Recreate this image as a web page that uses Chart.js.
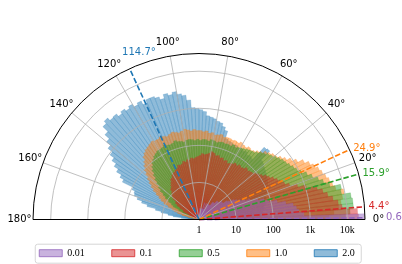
<!DOCTYPE html>
<html><head><meta charset="utf-8">
<script src="https://cdn.jsdelivr.net/npm/chart.js@4.4.1/dist/chart.umd.min.js"></script>
<style>html,body{margin:0;padding:0;background:#fff;overflow:hidden}#wrap{width:402px;height:264px;position:relative}</style>
</head><body>
<div id="wrap"><canvas id="c"></canvas></div>
<script>
// ---------------- data (counts per 2° bin, from 0° upward) ----------------
const BIN_DEG = 2;
const seriesLabels = ['0.01', '0.1', '0.5', '1.0', '2.0'];
const counts001 = [29000,680,500,440,370,240,145,88,68,47,
  30,22,17,14,12,9,8,6,6,6,
  5,5,5,4,4,4,3,3,3,3,
  3,2,3,2,2,3,2,2,1,2,
  2,1,0,2,0,0,0,0,0,0,
  0,0,0,0,0,0,0,0,0,0,
  0,0,0,0,0,0,0,0,0,0,
  0,0,0,0,0,0,0,0,0,0,
  0,0,0,0,0,0,0,0,0,0];
const counts01 = [20000,19000,7500,6000,4500,3400,2650,1950,1050,640,
  410,320,270,235,200,165,145,120,105,93,
  82,78,73,78,68,64,68,60,64,57,
  53,50,57,53,60,57,64,60,68,73,
  64,60,57,60,53,50,47,44,47,42,
  44,39,42,37,35,37,32,30,28,27,
  25,22,21,18,16,14,13,11,10,9,
  8,6,6,5,4,3,3,2,2,0,
  0,0,0,0,0,0,0,0,0,0];
const counts05 = [9000,12000,15000,15000,14000,8000,8500,4400,3200,2500,
  1850,1450,1100,920,820,720,640,600,530,470,
  410,370,320,290,250,220,210,200,185,175,
  165,150,165,145,150,145,150,145,135,145,
  150,135,145,145,135,145,135,145,150,145,
  135,145,150,165,150,145,150,165,150,145,
  145,135,125,110,100,82,68,53,41,32,
  25,20,15,12,9,7,6,4,3,2,
  0,0,0,0,0,0,0,0,0,0];
const counts10 = [3200,4400,6000,7200,8200,9500,6000,5300,4700,4100,
  3600,3200,2650,2200,1700,1200,920,720,600,500,
  470,410,370,300,270,235,220,235,210,220,
  235,210,220,210,220,220,210,235,220,210,
  235,220,250,235,250,250,270,250,270,290,
  270,250,270,290,270,250,270,290,270,270,
  290,270,250,235,210,185,145,120,100,78,
  60,47,37,29,22,17,14,11,8,6,
  5,4,3,2,0,0,0,0,0,0];
const counts20 = [40,45,50,55,60,60,70,70,80,80,
  90,100,110,120,130,140,150,160,170,180,
  200,210,450,420,150,160,150,170,160,170,
  160,175,170,180,185,200,320,390,470,500,
  560,600,640,820,920,990,1050,1700,2350,2650,
  3200,2800,3200,2500,3000,3400,3400,2800,3600,3200,
  3900,3400,3900,3400,4100,3900,4800,4000,2600,1800,
  1300,920,680,500,370,260,200,95,78,73,
  57,41,28,16,11,7,5,3,2,0];
const meanAngles = [0.6, 4.4, 15.9, 24.9, 114.7];
const angleTicks = [0, 20, 40, 60, 80, 100, 120, 140, 160, 180];
const radialTicks = [1, 10, 100, 1000, 10000];
const radialTickLabels = ['1', '10', '100', '1k', '10k'];
const rMaxCount = 30000;

// ---------------- styles / layout ----------------
const rgbs = ['148,103,189', '214,39,40', '44,160,44', '255,127,14', '31,119,180'];
const solid = ['#9467bd', '#d62728', '#2ca02c', '#ff7f0e', '#1f77b4'];
const meanLabelGap = [21, 4, 4, 4, 18];
const CX = 199, CY = 219.5, RADIUS = 166;
const LEGEND_ITEM_TOP = 248.2, LEGEND_PAD = 27;
const SANS = "'DejaVu Sans', sans-serif";
const SERIF = "'Liberation Serif', serif";

const allCounts = [counts001, counts01, counts05, counts10, counts20];
const nBins = counts001.length;
const binLabels = [];
for (let i = nBins - 1; i >= 0; i--) binLabels.push((i * BIN_DEG) + '–' + ((i + 1) * BIN_DEG) + '°');
const toLog = c => (c > 0 ? Math.log10(c) : 0);

const datasets = allCounts.map((cnt, k) => ({
  label: seriesLabels[k],
  data: cnt.slice().reverse().map(toLog),
  angle: BIN_DEG,
  backgroundColor: 'rgba(' + rgbs[k] + ',0.5)',
  borderColor: 'rgba(' + rgbs[k] + ',0.4)',
  borderWidth: ctx => (ctx.raw > 0 ? 0.5 : 0),
  clip: false
}));

function polarPt(scale, deg, value) {
  const d = scale.getDistanceFromCenterForValue(value);
  const a = deg * Math.PI / 180;
  return [scale.xCenter + d * Math.cos(a), scale.yCenter - d * Math.sin(a), d];
}

const decor = {
  id: 'decor',
  afterLayout(chart) {
    const lg = chart.legend;
    if (lg) {
      const h = lg.bottom - lg.top;
      lg.top = LEGEND_ITEM_TOP - LEGEND_PAD;
      lg.bottom = lg.top + h;
    }
  },
  afterDatasetsDraw(chart) {
    const s = chart.scales.r;
    const ctx = chart.ctx;
    const vmax = Math.log10(rMaxCount);
    const R = s.getDistanceFromCenterForValue(vmax);
    ctx.save();
    // grid circles
    ctx.strokeStyle = '#b0b0b0';
    ctx.lineWidth = 0.8;
    radialTicks.forEach(v => {
      const d = s.getDistanceFromCenterForValue(Math.log10(v));
      if (d <= 0) return;
      ctx.beginPath();
      ctx.arc(s.xCenter, s.yCenter, d, Math.PI, 2 * Math.PI);
      ctx.stroke();
    });
    // angle lines
    angleTicks.forEach(t => {
      if (t === 0 || t === 180) return;
      const p = polarPt(s, t, vmax);
      ctx.beginPath();
      ctx.moveTo(s.xCenter, s.yCenter);
      ctx.lineTo(p[0], p[1]);
      ctx.stroke();
    });
    // mean lines
    ctx.lineWidth = 1.6;
    ctx.setLineDash([5.5, 2.4]);
    meanAngles.forEach((m, k) => {
      const p = polarPt(s, m, vmax);
      ctx.strokeStyle = solid[k];
      ctx.beginPath();
      ctx.moveTo(s.xCenter, s.yCenter);
      ctx.lineTo(p[0], p[1]);
      ctx.stroke();
    });
    ctx.setLineDash([]);
    // spines
    ctx.strokeStyle = '#000';
    ctx.lineWidth = 1;
    ctx.beginPath();
    ctx.arc(s.xCenter, s.yCenter, R, Math.PI, 2 * Math.PI);
    ctx.stroke();
    ctx.beginPath();
    ctx.moveTo(s.xCenter - R, s.yCenter);
    ctx.lineTo(s.xCenter + R, s.yCenter);
    ctx.stroke();
    // angle tick labels
    ctx.fillStyle = '#000';
    ctx.font = '10px ' + SANS;
    ctx.textAlign = 'center';
    ctx.textBaseline = 'middle';
    angleTicks.forEach(t => {
      const a = t * Math.PI / 180;
      const d = R + 13.5;
      ctx.fillText(t + '°', s.xCenter + d * Math.cos(a), s.yCenter - d * Math.sin(a));
    });
    // radial tick labels
    ctx.font = '10px ' + SERIF;
    radialTicks.forEach((v, i) => {
      const d = s.getDistanceFromCenterForValue(Math.log10(v));
      ctx.fillText(radialTickLabels[i], s.xCenter + d, s.yCenter + 10.5);
    });
    // mean labels
    ctx.font = '10px ' + SANS;
    ctx.textAlign = 'left';
    meanAngles.forEach((m, k) => {
      const a = m * Math.PI / 180;
      const d = R + meanLabelGap[k];
      ctx.fillStyle = solid[k];
      ctx.fillText(m.toFixed(1) + '°', s.xCenter + d * Math.cos(a), s.yCenter - d * Math.sin(a));
    });
    ctx.restore();
  },
  afterDraw(chart) {
    const lg = chart.legend;
    if (!lg || !lg.legendHitBoxes || !lg.legendHitBoxes.length) return;
    const hb = lg.legendHitBoxes;
    let l = Infinity, r = -Infinity, t = Infinity, b = -Infinity;
    hb.forEach(h => { l = Math.min(l, h.left); r = Math.max(r, h.left + h.width); t = Math.min(t, h.top); b = Math.max(b, h.top + h.height); });
    const ctx = chart.ctx;
    const x0 = l - 4, x1 = r + 6.5, y0 = t - 4, y1 = b + 5, rad = 2.5;
    ctx.save();
    ctx.strokeStyle = '#d6d6d6';
    ctx.lineWidth = 1;
    ctx.beginPath();
    ctx.moveTo(x0 + rad, y0);
    ctx.arcTo(x1, y0, x1, y1, rad);
    ctx.arcTo(x1, y1, x0, y1, rad);
    ctx.arcTo(x0, y1, x0, y0, rad);
    ctx.arcTo(x0, y0, x1, y0, rad);
    ctx.closePath();
    ctx.stroke();
    ctx.restore();
  }
};

new Chart(document.getElementById('c'), {
  type: 'polarArea',
  data: { labels: binLabels, datasets },
  plugins: [decor],
  options: {
    responsive: true,
    maintainAspectRatio: false,
    animation: false,
    startAngle: -90,
    layout: { padding: { right: 8 } },
    scales: {
      r: {
        type: 'radialLinear',
        min: 0,
        max: Math.log10(rMaxCount),
        startAngle: -90,
        ticks: { display: false },
        grid: { display: false },
        angleLines: { display: false },
        pointLabels: { display: false },
        afterFit: sc => { sc.xCenter = CX; sc.yCenter = CY; sc.drawingArea = RADIUS; }
      }
    },
    plugins: {
      tooltip: { enabled: false },
      legend: {
        display: true,
        position: 'bottom',
        labels: {
          boxWidth: 23,
          boxHeight: 7,
          padding: LEGEND_PAD,
          color: '#000',
          font: { family: SERIF, size: 10 },
          generateLabels: chart => chart.data.datasets.map((ds, i) => ({
            text: ds.label,
            fillStyle: 'rgba(' + rgbs[i] + ',0.5)',
            strokeStyle: 'rgba(' + rgbs[i] + ',0.8)',
            lineWidth: 1,
            hidden: false,
            datasetIndex: i
          }))
        }
      }
    }
  }
});
</script>
</body></html>
